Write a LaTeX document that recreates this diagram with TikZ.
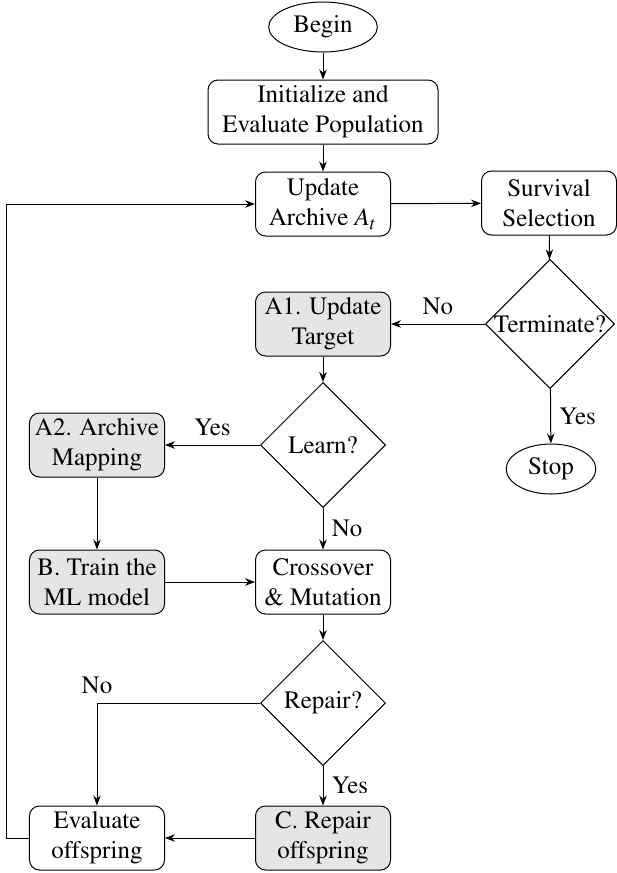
\documentclass[tikz,border=0pt]{standalone}
\usepackage{amsmath}
\usepackage[T1]{fontenc}
\usepackage{mathptmx}
\usepackage{tikz}
\usetikzlibrary{arrows.meta,shapes.geometric,calc,positioning}
\definecolor{shade}{rgb}{0.9,0.9,0.9}

\begin{document}
\begin{tikzpicture}[x=0.4pt,y=-0.4pt,
    box/.style={draw,rounded corners=4pt,align=center,minimum width=54pt,minimum height=25.6pt,inner sep=2pt},
    learnbox/.style={box,fill=shade},
    term/.style={draw,ellipse,minimum height=20pt,inner xsep=3.5pt,inner ysep=1.5pt},
    decide/.style={draw,diamond,aspect=1,minimum size=50pt,inner sep=0pt},
    flow/.style={-{Stealth[length=4pt,width=3pt]}}]
  \useasboundingbox (0,0) rectangle (616,873);

  % main column
  \node[term] (begin) at (323,27) {Begin};
  \node[box,minimum width=92pt] (init) at (323,112) {Initialize and\\Evaluate Population};
  \node[box] (archive) at (323,204) {Update\\Archive $A_t$};
  \node[box] (survival) at (549,203) {Survival\\Selection};
  \node[decide] (term) at (550,324) {Terminate?};
  \node[term] (stop) at (551,469) {Stop};
  \node[learnbox] (target) at (323,324) {A1. Update\\Target};
  \node[decide] (learn) at (323,445) {Learn?};
  \node[learnbox] (mapping) at (97,445) {A2. Archive\\Mapping};
  \node[learnbox] (train) at (97,582) {B. Train the\\ML model};
  \node[box] (cross) at (323,582) {Crossover\\\& Mutation};
  \node[decide] (repair) at (323,703) {Repair?};
  \node[learnbox] (fix) at (323,838) {C. Repair\\offspring};
  \node[box] (evaluate) at (97,838) {Evaluate\\offspring};

  % connectors
  \draw[flow] (begin) -- (init);
  \draw[flow] (init) -- (archive);
  \draw[flow] (archive) -- (survival);
  \draw[flow] (survival) -- (term);
  \draw[flow] (term) -- node[above] {No} (target);
  \draw[flow] (term) -- node[right] {Yes} (stop);
  \draw[flow] (target) -- (learn);
  \draw[flow] (learn) -- node[above] {Yes} (mapping);
  \draw[flow] (learn) -- node[right] {No} (cross);
  \draw[flow] (mapping) -- (train);
  \draw[flow] (train) -- (cross);
  \draw[flow] (cross) -- (repair);
  \draw[flow] (repair) -- node[right] {Yes} (fix);
  \draw[flow] (repair.west) -| node[pos=0.5,above] {No} (evaluate.north);
  \draw[flow] (fix) -- (evaluate);
  \draw[flow] (evaluate.west) -- ++(-22,0) |- (archive.west);
\end{tikzpicture}
\end{document}
